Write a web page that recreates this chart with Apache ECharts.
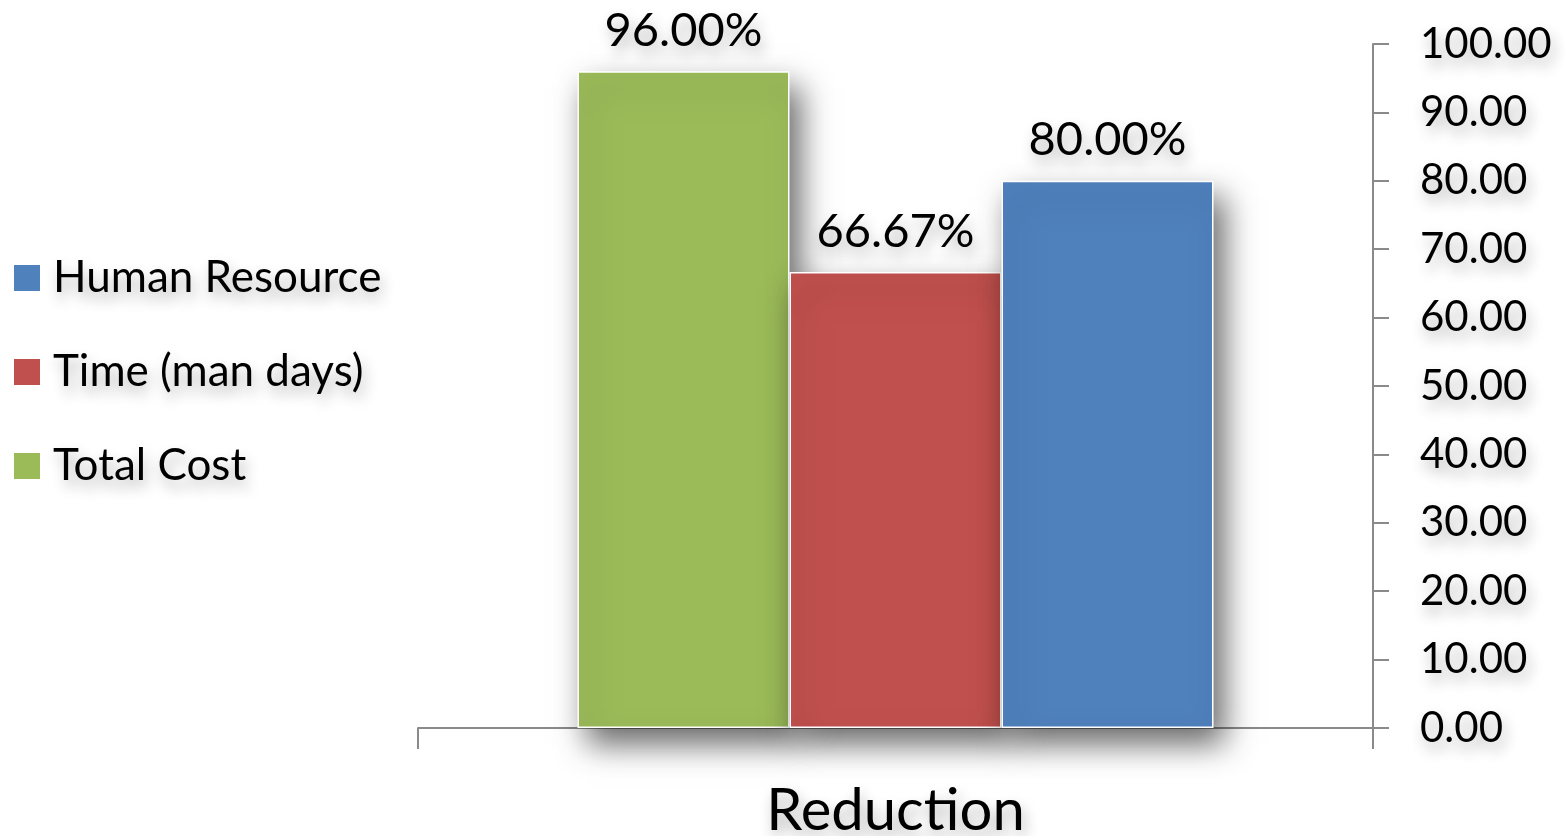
<!DOCTYPE html>
<html>
<head>
<meta charset="utf-8">
<script src="https://cdn.jsdelivr.net/npm/echarts@6/dist/echarts.min.js"></script>
<style>
html,body{margin:0;padding:0;background:#fff;}
#chart{width:1565px;height:836px;}
</style>
</head>
<body>
<div id="chart"></div>
<script>
var categories = ['Reduction'];
var seriesNames = ['Total Cost', 'Time (man days)', 'Human Resource'];
var totalCost = [96.00];
var timeManDays = [66.67];
var humanResource = [80.00];
var legendOrder = ['Human Resource', 'Time (man days)', 'Total Cost'];
var yTicks = { min: 0, max: 100, interval: 10 };

var colors = { 'Total Cost': '#9BBB59', 'Time (man days)': '#C0504D', 'Human Resource': '#4F81BD' };
var dataMap = { 'Total Cost': totalCost, 'Time (man days)': timeManDays, 'Human Resource': humanResource };
var FONT = 'Lato';
var txtShadow = { textShadowColor: 'rgba(0,0,0,0.3)', textShadowBlur: 14, textShadowOffsetX: 3, textShadowOffsetY: 8 };

var chart = echarts.init(document.getElementById('chart'), null, { renderer: 'canvas' });

var series = seriesNames.map(function (n) {
  return {
    name: n,
    type: 'bar',
    data: dataMap[n],
    barGap: '0%',
    barCategoryGap: '33.4%',
    itemStyle: {
      color: colors[n],
      borderColor: '#ffffff',
      borderWidth: 1.5,
      shadowColor: 'rgba(0,0,0,0.6)',
      shadowBlur: 30,
      shadowOffsetX: 10,
      shadowOffsetY: 16
    },
    label: Object.assign({
      show: true,
      position: 'top',
      distance: 17,
      fontFamily: FONT,
      fontSize: 47,
      color: '#000',
      formatter: function (p) { return p.value.toFixed(2) + '%'; }
    }, txtShadow),
    emphasis: { disabled: true }
  };
});

chart.setOption({
  animation: false,
  backgroundColor: '#ffffff',
  legend: {
    orient: 'vertical',
    left: 9,
    top: 248,
    data: legendOrder,
    icon: 'rect',
    itemWidth: 26,
    itemHeight: 26,
    itemGap: 44,
    itemStyle: { borderWidth: 0 },
    textStyle: Object.assign({ fontFamily: FONT, fontSize: 44, color: '#000', lineHeight: 50, padding: [0, 0, 0, 8] }, txtShadow),
    selectedMode: false
  },
  grid: { left: 418, right: 192, top: 44, bottom: 108, containLabel: false, outerBoundsMode: 'none' },
  xAxis: {
    type: 'category',
    data: categories,
    axisLine: { show: true, lineStyle: { color: '#8a8a8a', width: 2 } },
    axisTick: { show: true, length: 21, lineStyle: { color: '#8a8a8a', width: 2 } },
    axisLabel: Object.assign({ fontFamily: FONT, fontSize: 58, color: '#000', margin: 54 }, txtShadow),
    splitLine: { show: false }
  },
  yAxis: {
    type: 'value',
    position: 'right',
    min: yTicks.min,
    max: yTicks.max,
    interval: yTicks.interval,
    axisLine: { show: true, lineStyle: { color: '#8a8a8a', width: 2 } },
    axisTick: { show: true, length: 16, lineStyle: { color: '#8a8a8a', width: 2 } },
    axisLabel: Object.assign({
      fontFamily: FONT, fontSize: 42, color: '#000', margin: 47,
      formatter: function (v) { return v.toFixed(2); }
    }, txtShadow),
    splitLine: { show: false }
  },
  series: series
});
</script>
</body>
</html>
